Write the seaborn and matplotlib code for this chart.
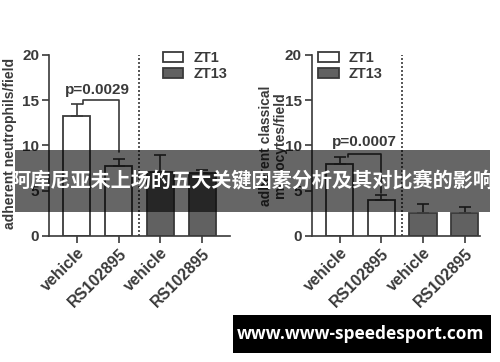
import matplotlib
matplotlib.use("Agg")
import matplotlib.pyplot as plt
import seaborn as sns
import pandas as pd
import numpy as np
from matplotlib.patches import Rectangle, Patch

sns.set_theme(style="white")
plt.rcParams['font.family'] = ['Liberation Sans', 'DejaVu Sans']

# ---- data ----
keys = ["v1", "r1", "v13", "r13"]
tick_labels = ["vehicle", "RS102895", "vehicle", "RS102895"]
groups = ["ZT1", "ZT1", "ZT13", "ZT13"]
neut_mean = [13.3, 7.7, 7.0, 6.9]
neut_err = [1.3, 0.8, 1.9, 0.4]
mono_mean = [7.9, 4.0, 2.55, 2.55]
mono_err = [0.8, 0.5, 0.95, 0.6]
p_left = "p=0.0029"
p_right = "p=0.0007"
title_text = "阿库尼亚未上场的五大关键因素分析及其对比赛的影响"
watermark = "www.www-speedesport.com"

W, H = 500, 362
fig = plt.figure(figsize=(W / 100, H / 100), dpi=100)
fig.patch.set_facecolor("white")

ink = "#3a3a3a"
palette = {"ZT1": "white", "ZT13": "#616161"}
FS = 10.5


def panel(rect, means, errs, xmax, ylabel, lab_x, lab_y, pval, bracket, ptext_xy, leg_anchor):
    ax = fig.add_axes(rect)
    df = pd.DataFrame({"key": keys, "val": means, "grp": groups})
    sns.barplot(data=df, x="key", y="val", hue="grp", order=keys, palette=palette,
                dodge=False, width=0.65, edgecolor=ink, linewidth=1.3, ax=ax,
                errorbar=None, legend=False)
    x = np.arange(len(keys))
    ax.errorbar(x, means, yerr=[np.zeros(len(errs)), errs], fmt="none",
                ecolor=ink, elinewidth=1.2, capsize=4, capthick=1.2, zorder=3)
    ax.set_xlim(-0.67, xmax)
    ax.set_ylim(0, 20)
    ax.set_yticks([0, 5, 10, 15, 20])
    ax.set_xticks(x)
    ax.set_xticklabels(tick_labels, rotation=45, ha="right", va="top",
                       rotation_mode="anchor", fontsize=11.5, fontweight="bold", color=ink)
    for t in ax.get_yticklabels():
        t.set_fontsize(11)
        t.set_fontweight("bold")
        t.set_color(ink)
    ax.tick_params(axis="both", direction="out", length=5, width=1.2, color=ink,
                   bottom=True, left=True, pad=2)
    for s in ["top", "right"]:
        ax.spines[s].set_visible(False)
    for s in ["left", "bottom"]:
        ax.spines[s].set_color(ink)
        ax.spines[s].set_linewidth(1.2)
    ax.set_xlabel("")
    ax.set_ylabel(ylabel, fontsize=10, fontweight="bold", color=ink, linespacing=0.95)
    ax.yaxis.set_label_coords(lab_x, lab_y)
    ax.axvline(1.5, ymin=0, ymax=1, color=ink, linestyle=(0, (1.2, 1.2)), linewidth=1.2)
    bx0, bx1, by, yl, yr = bracket
    ax.plot([bx0, bx0, bx1, bx1], [yl, by, by, yr], color=ink, linewidth=1.2)
    ax.text(ptext_xy[0], ptext_xy[1], pval, ha="center", va="center",
            fontsize=11, fontweight="bold", color=ink)
    handles = [Patch(facecolor=palette["ZT1"], edgecolor=ink, linewidth=1.3, label="ZT1"),
               Patch(facecolor=palette["ZT13"], edgecolor=ink, linewidth=1.3, label="ZT13")]
    leg = ax.legend(handles=handles, loc="upper left", bbox_to_anchor=leg_anchor,
                    frameon=False, handlelength=1.4, handleheight=0.7,
                    handletextpad=0.7, labelspacing=0.1, borderaxespad=0, borderpad=0,
                    prop={"weight": "bold", "size": FS})
    for t in leg.get_texts():
        t.set_color(ink)
    return ax


panel([49 / W, 1 - 235.7 / H, 181 / W, 180.7 / H], neut_mean, neut_err, 3.67,
      "adherent neutrophils/field", -0.175, 0.51, p_left,
      (0.15, 1.0, 15.0, 14.6, 9.3), (0.5, 16.1), (0.63, 1.02))

panel([311.7 / W, 1 - 235.7 / H, 168 / W, 180.7 / H], mono_mean, mono_err, 3.36,
      "adherent classical\nmonocytes/field", -0.15, 0.5, p_right,
      (0.2, 1.0, 9.05, 8.7, 4.7), (0.6, 10.4), (0.04, 1.02))

# banner overlay
fig.patches.append(Rectangle((15 / W, 1 - 212 / H), 475 / W, 62 / H, transform=fig.transFigure,
                             facecolor="black", alpha=0.6, edgecolor="none", zorder=10))
fig.text(252 / W, 1 - 181 / H, title_text, ha="center", va="center", color="white",
         fontsize=14.5, fontweight="bold", family=["Noto Sans CJK SC", "DejaVu Sans"], zorder=11)

# watermark box
fig.patches.append(Rectangle((233 / W, 1 - 353 / H), 258 / W, 38 / H, transform=fig.transFigure,
                             facecolor="black", edgecolor="none", zorder=10))
fig.text(361 / W, 1 - 334 / H, watermark, ha="center", va="center", color="white",
         fontsize=12.5, fontweight="bold", family=["Open Sans", "DejaVu Sans"], zorder=11)

fig.savefig("out.png", dpi=100)
